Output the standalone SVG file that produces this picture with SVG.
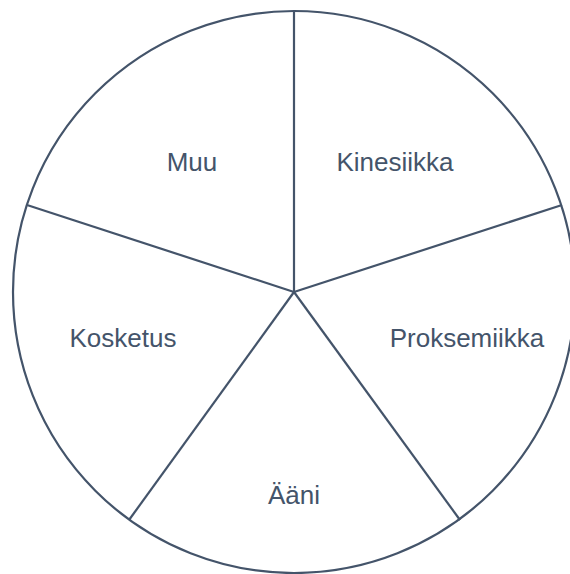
<svg xmlns="http://www.w3.org/2000/svg" width="570" height="574" viewBox="0 0 570 574">
  <style>
    .ln { stroke: #44546A; stroke-width: 2.2; fill: none; }
    .lbl { font-family: "Liberation Sans", Arial, sans-serif; font-size: 26px; fill: #44546A; text-anchor: middle; }
  </style>
  <rect width="570" height="574" fill="#ffffff"/>
  <g id="outline">
    <circle class="ln" cx="294" cy="292" r="281"/>
  </g>
  <g id="connectors">
    <line class="ln" x1="294" y1="292" x2="294" y2="11"/>
    <line class="ln" x1="294" y1="292" x2="562" y2="205"/>
    <line class="ln" x1="294" y1="292" x2="460" y2="520"/>
    <line class="ln" x1="294" y1="292" x2="129" y2="520"/>
    <line class="ln" x1="294" y1="292" x2="27" y2="205"/>
  </g>
  <g id="muu"><text class="lbl" x="192" y="171">Muu</text></g>
  <g id="kinesiikka"><text class="lbl" x="395" y="171">Kinesiikka</text></g>
  <g id="proksemiikka"><text class="lbl" x="467" y="347">Proksemiikka</text></g>
  <g id="kosketus"><text class="lbl" x="123" y="347">Kosketus</text></g>
  <g id="aani"><text class="lbl" x="294" y="504">Ääni</text></g>
</svg>
